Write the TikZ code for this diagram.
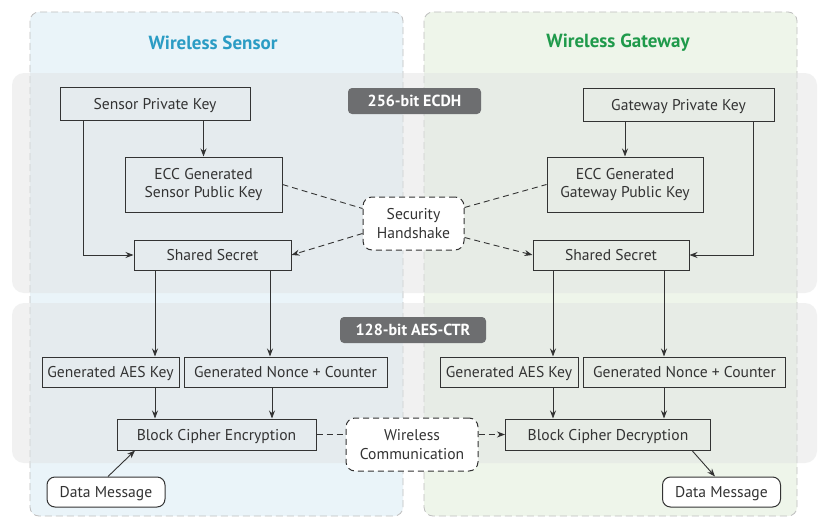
\documentclass[tikz,border=0pt]{standalone}
\usepackage{fontspec}
\setmainfont{PT Sans}
\usetikzlibrary{arrows.meta}
\definecolor{sensorbg}{HTML}{EAF4F9}
\definecolor{gatebg}{HTML}{EEF5EA}
\definecolor{bandbg}{HTML}{E0E2E2}
\definecolor{badge}{HTML}{6D6E70}
\definecolor{sensortitle}{HTML}{2B9CC4}
\definecolor{gatetitle}{HTML}{1F9A4B}
\definecolor{ink}{HTML}{333333}
\begin{document}
\begin{tikzpicture}[x=1pt,y=-1pt,
  panel/.style={draw=black!25, line width=0.8pt, dash pattern=on 7pt off 4pt, rounded corners=9pt},
  band/.style={fill=bandbg, fill opacity=0.45, rounded corners=12pt},
  badgebox/.style={fill=badge, rounded corners=4pt, text=white, font=\bfseries\fontsize{16}{18}\selectfont, inner sep=0pt},
  box/.style={draw=ink, line width=1pt, text=ink, inner sep=0pt, align=center, font=\fontsize{15.6}{18.5}\selectfont},
  one/.style={text height=12.5pt, text depth=1.5pt},
  rbox/.style={box, one, rounded corners=8pt, fill=white},
  dbox/.style={box, dashed, dash pattern=on 6pt off 4pt, rounded corners=9pt, fill=white},
  arr/.style={draw=ink, line width=0.9pt, -{Stealth[length=8pt,width=6pt]}},
  dline/.style={draw=ink, line width=0.9pt, dash pattern=on 6pt off 4pt},
  darr/.style={dline, -{Stealth[length=8pt,width=6pt]}},
  title/.style={font=\bfseries\fontsize{19}{22}\selectfont}
]
\useasboundingbox (0,0) rectangle (824,519);
\fill[white] (0,0) rectangle (824,519);
% panels
\fill[sensorbg, rounded corners=9pt] (30,12) rectangle (403,516);
\fill[gatebg, rounded corners=9pt] (424,12) rectangle (797,516);
\draw[panel] (30,12) rectangle (403,516);
\draw[panel] (424,12) rectangle (797,516);
% bands
\fill[band] (12,73) rectangle (817,293);
\fill[band] (12,303) rectangle (817,463);
% titles
\node[title, text=sensortitle] (tsen) at (213,43) {Wireless Sensor};
\node[title, text=gatetitle] (tgat) at (618,43) {Wireless Gateway};
% badges
\node[badgebox, minimum width=133pt, minimum height=26pt] (ecdh) at (414.5,101) {256-bit ECDH};
\node[badgebox, minimum width=146pt, minimum height=26pt] (aes) at (413,330) {128-bit AES-CTR};
% ECDH boxes
\node[box, one, minimum width=190pt, minimum height=33pt] (spk) at (155,104) {Sensor Private Key};
\node[box, minimum width=157pt, minimum height=55pt] (epk) at (203.5,184.5) {ECC Generated\\Sensor Public Key};
\node[box, one, minimum width=157pt, minimum height=30pt] (ss1) at (212.5,255) {Shared Secret};
\node[dbox, minimum width=101pt, minimum height=53pt] (hs) at (413.5,223.5) {Security\\Handshake};
\node[box, one, minimum width=191pt, minimum height=33pt] (gpk) at (678.5,104.5) {Gateway Private Key};
\node[box, minimum width=156pt, minimum height=55pt] (egk) at (625,184.5) {ECC Generated\\Gateway Public Key};
\node[box, one, minimum width=156pt, minimum height=30pt] (ss2) at (611,255) {Shared Secret};
% AES boxes
\node[box, one, minimum width=137pt, minimum height=30pt] (aes1) at (110.5,372) {Generated AES Key};
\node[box, one, minimum width=203pt, minimum height=30pt] (non1) at (285.5,372) {Generated Nonce + Counter};
\node[box, one, minimum width=199pt, minimum height=31pt] (bce) at (216.5,434.5) {Block Cipher Encryption};
\node[rbox, minimum width=118pt, minimum height=30pt] (dm1) at (106,492) {Data Message};
\node[dbox, minimum width=132pt, minimum height=53pt] (wc) at (412,444.5) {Wireless\\Communication};
\node[box, one, minimum width=138pt, minimum height=30pt] (aes2) at (509,372) {Generated AES Key};
\node[box, one, minimum width=202pt, minimum height=30pt] (non2) at (684.5,372) {Generated Nonce + Counter};
\node[box, one, minimum width=205pt, minimum height=31pt] (bcd) at (608,434.5) {Block Cipher Decryption};
\node[rbox, minimum width=118pt, minimum height=30pt] (dm2) at (721.5,492) {Data Message};
% ECDH connectors
\draw[arr] (epk.north |- spk.south) -- (epk.north);
\draw[arr] ([xshift=-72pt]spk.south) |- (ss1.west);
\draw[arr] (egk.north |- gpk.south) -- (egk.north);
\draw[arr] ([xshift=74.5pt]gpk.south) |- (ss2.east);
\draw[dline] (epk.east) -- ([yshift=15pt]hs.west);
\draw[darr] ([yshift=-10pt]hs.west) -- (ss1.east);
\draw[dline] ([yshift=16pt]hs.east) -- (egk.west);
\draw[darr] ([yshift=-14pt]hs.east) -- (ss2.west);
% AES connectors
\draw[arr] ([xshift=-57.5pt]ss1.south) -- ([xshift=-57.5pt]ss1.south |- aes1.north);
\draw[arr] ([xshift=57.5pt]ss1.south) -- ([xshift=57.5pt]ss1.south |- non1.north);
\draw[arr] ([xshift=44.5pt]aes1.south) -- ([xshift=44.5pt]aes1.south |- bce.north);
\draw[arr] ([xshift=-13.5pt]non1.south) -- ([xshift=-13.5pt]non1.south |- bce.north);
\draw[arr] ([xshift=-58pt]ss2.south) -- ([xshift=-58pt]ss2.south |- aes2.north);
\draw[arr] ([xshift=53pt]ss2.south) -- ([xshift=53pt]ss2.south |- non2.north);
\draw[arr] ([xshift=44pt]aes2.south) -- ([xshift=44pt]aes2.south |- bcd.north);
\draw[arr] ([xshift=-20.5pt]non2.south) -- ([xshift=-20.5pt]non2.south |- bcd.north);
\draw[arr] ([xshift=2pt]dm1.north) -- ([xshift=-81.5pt]bce.south);
\draw[arr] ([xshift=84pt]bcd.south) -- ([xshift=-6.5pt]dm2.north);
\draw[dline] (bce.east) -- (bce.east -| wc.west);
\draw[darr] (wc.east |- bcd.west) -- (bcd.west);
\end{tikzpicture}
\end{document}
